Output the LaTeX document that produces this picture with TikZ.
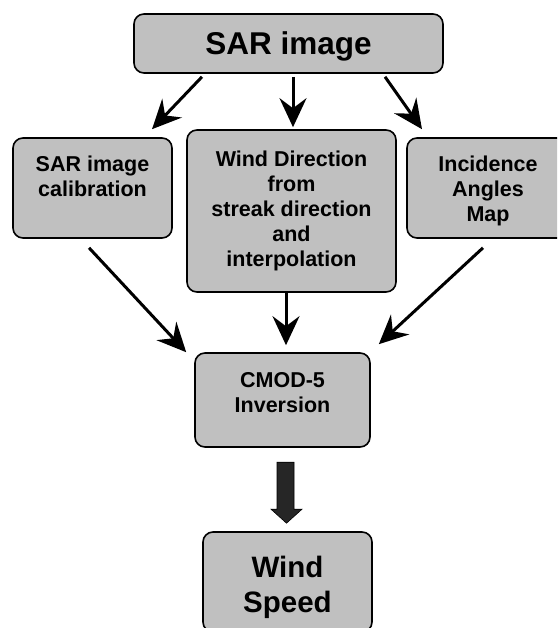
\documentclass[tikz,border=0pt]{standalone}
\usepackage{fontspec}
\setmainfont{Liberation Sans}
\usetikzlibrary{arrows.meta,calc}
\definecolor{boxgray}{RGB}{192,192,192}
\begin{document}
\begin{tikzpicture}[x=1pt,y=-1pt,
  box/.style={draw=black, line width=1.6pt, fill=boxgray, rounded corners=10pt, inner sep=0pt},
  txt/.style={anchor=north, inner sep=0pt, align=center, font=\bfseries\fontsize{21.5}{25}\selectfont},
  flow/.style={line width=3pt, -{Stealth[length=29pt,width=27pt,inset=10pt]}},
  bigarrow/.style={fill=black!85, draw=black, line width=0.6pt}]
\useasboundingbox (0,0) rectangle (557,628);
\clip (0,0) rectangle (557,628);

% boxes
\node[box, minimum width=309pt, minimum height=59pt]  (sar)  at (288.5,43.5) {};
\node[box, minimum width=159pt, minimum height=100pt] (cal)  at (92.5,188)   {};
\node[box, minimum width=209pt, minimum height=162pt] (wdir) at (291.5,211)  {};
\node[box, minimum width=162pt, minimum height=100pt] (inc)  at (488,188)    {};
\node[box, minimum width=175pt, minimum height=94pt]  (cmod) at (282.5,400)  {};
\node[box, minimum width=169pt, minimum height=100pt] (ws)   at (287.5,582)  {};

% box texts
\node[txt, font=\bfseries\fontsize{31.5}{36}\selectfont] (sartxt) at ([yshift=-18.2pt]sar.north) {SAR image};
\node[txt] (caltxt) at ([yshift=-18.5pt]cal.north) {SAR image\\calibration};
\node[txt] (wdirtxt) at ([yshift=-21.5pt]wdir.north) {Wind Direction\\from\\streak direction\\and\\interpolation};
\node[txt] (inctxt) at ([yshift=-18.5pt]inc.north) {Incidence\\Angles\\Map};
\node[txt] (cmodtxt) at ([yshift=-20.5pt]cmod.north) {CMOD-5\\Inversion};
\node[txt, font=\bfseries\fontsize{29.5}{35}\selectfont] (wstxt) at ([yshift=-24.5pt]ws.north) {Wind\\Speed};

% connectors from the SAR image
\draw[flow] ([xshift=-86.5pt,yshift=-3pt]sar.south) -- ([xshift=59.5pt,yshift=8pt]cal.north);
\draw[flow] ([xshift=4.5pt,yshift=-3pt]sar.south) -- ([xshift=1.5pt,yshift=2pt]wdir.north);
\draw[flow] ([xshift=96.5pt,yshift=-3pt]sar.south) -- ([xshift=-66pt,yshift=8pt]inc.north);

% connectors into the inversion
\draw[flow] ([xshift=-3.5pt,yshift=-9pt]cal.south) -- ([xshift=-8pt,yshift=0pt]cmod.north west);
\draw[flow] ([xshift=-5.5pt]wdir.south) -- ([xshift=3.5pt,yshift=7pt]cmod.north);
\draw[flow] ([xshift=-5pt,yshift=-9pt]inc.south) -- ([xshift=8pt,yshift=8pt]cmod.north east);

% block arrow to the result
\coordinate (tip) at ([xshift=-1pt,yshift=8pt]ws.north);
\draw[bigarrow] (tip) -- ++(-15.5,-14) -- ++(6,0) -- ++(0,-47) -- ++(17,0) -- ++(0,47) -- ++(8,0) -- cycle;
\end{tikzpicture}
\end{document}
